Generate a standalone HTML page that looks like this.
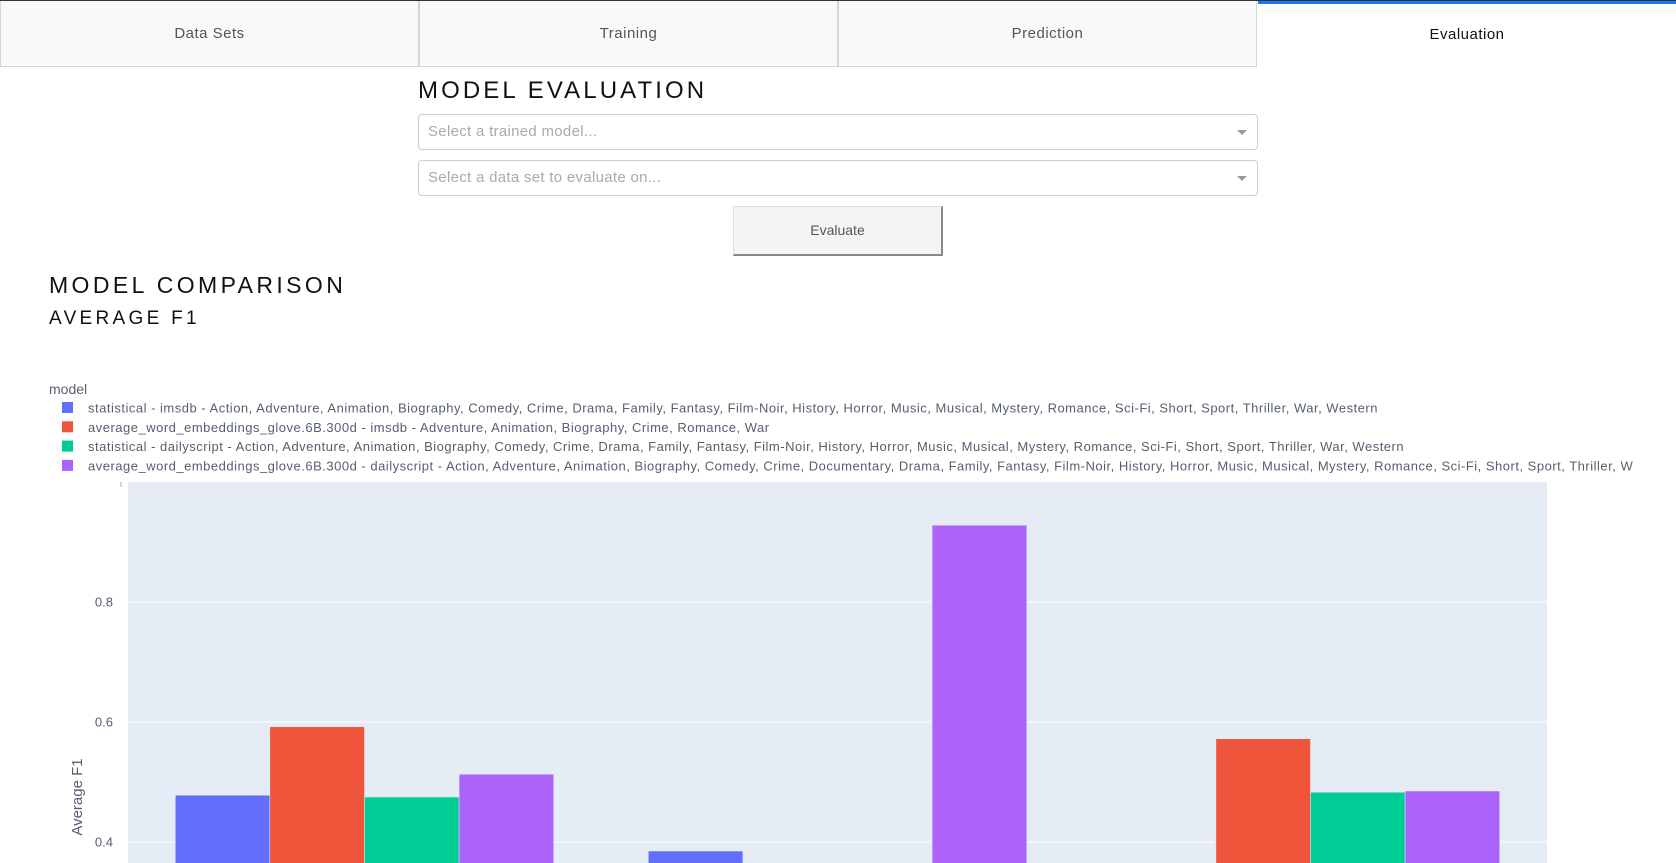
<!DOCTYPE html>
<html><head><meta charset="utf-8"><style>
*{box-sizing:border-box;margin:0;padding:0}
body{width:1676px;height:863px;overflow:hidden;background:#fff;font-family:"Liberation Sans",sans-serif;position:relative}
.tabs{position:absolute;left:0;top:0;width:1676px;height:67px;border-top:1px solid #333}
.tab{position:absolute;top:0;height:66px;width:419px;background:#f9f9f9;border:1px solid #d6d6d6;border-top:none;color:#555;font-size:15px;letter-spacing:.5px;text-align:center;line-height:66px}
.tab.active{background:#fff;border:none;border-top:3px solid #1975fa;color:#111;line-height:62px}
h1{position:absolute;left:418px;top:77px;font-size:24px;font-weight:normal;letter-spacing:3.1px;color:#111}
.dd{position:absolute;left:418px;width:840px;height:36px;border:1px solid #ccc;border-radius:4px;color:#aaa;font-size:15px;padding-left:9px;line-height:34px;letter-spacing:.3px}
.dd:after{content:"";position:absolute;right:10px;top:15px;border:5px solid transparent;border-top:5px solid #999}
.btn{position:absolute;left:733px;top:206px;width:210px;height:50px;background:#f4f4f6;border:1px solid #ddd;border-right:2px solid #888;border-bottom:2px solid #888;color:#555;font-size:14px;text-align:center;line-height:47px}
h2{position:absolute;left:49px;top:272px;font-size:23px;font-weight:normal;letter-spacing:3.4px;color:#111}
h3{position:absolute;left:49px;top:308px;font-size:19px;font-weight:normal;letter-spacing:3.3px;color:#111}
svg{position:absolute;left:0;top:370px}
</style></head><body>
<div class="tabs">
<div class="tab" style="left:0">Data Sets</div>
<div class="tab" style="left:419px">Training</div>
<div class="tab" style="left:838px">Prediction</div>
<div class="tab active" style="left:1258px;width:418px">Evaluation</div>
</div>
<h1>MODEL EVALUATION</h1>
<div class="dd" style="top:114px">Select a trained model...</div>
<div class="dd" style="top:160px">Select a data set to evaluate on...</div>
<div class="btn">Evaluate</div>
<h2>MODEL COMPARISON</h2>
<h3>AVERAGE F1</h3>
<svg id="chart" width="1676" height="493"></svg>
<script>
const categories=["A","B","C"];
const seriesNames=["statistical - imsdb - Action, Adventure, Animation, Biography, Comedy, Crime, Drama, Family, Fantasy, Film-Noir, History, Horror, Music, Musical, Mystery, Romance, Sci-Fi, Short, Sport, Thriller, War, Western",
"average_word_embeddings_glove.6B.300d - imsdb - Adventure, Animation, Biography, Crime, Romance, War",
"statistical - dailyscript - Action, Adventure, Animation, Biography, Comedy, Crime, Drama, Family, Fantasy, Film-Noir, History, Horror, Music, Musical, Mystery, Romance, Sci-Fi, Short, Sport, Thriller, War, Western",
"average_word_embeddings_glove.6B.300d - dailyscript - Action, Adventure, Animation, Biography, Comedy, Crime, Documentary, Drama, Family, Fantasy, Film-Noir, History, Horror, Music, Musical, Mystery, Romance, Sci-Fi, Short, Sport, Thriller, W"];
const s1=[0.478,0.385,null];
const s2=[0.592,null,0.572];
const s3=[0.475,null,0.483];
const s4=[0.513,0.928,0.485];
const yTicks=[0.4,0.6,0.8];
const colors=["#636efa","#ef553b","#00cc96","#ab63fa"];
const series=[s1,s2,s3,s4];
const NS="http://www.w3.org/2000/svg";
const svg=document.getElementById('chart');
const OY=370;
const L=128,R=1547,T=482-OY,B=900-OY;
const y=v=>T+(1-v)*600;
const bw=(R-L)/categories.length;
const x=i=>L+bw*i;
function mk(t,a,p){const e=document.createElementNS(NS,t);for(const k in a)e.setAttribute(k,a[k]);(p||svg).appendChild(e);return e;}
const lt=mk('text',{x:49,y:24,'font-size':14,fill:'#555f70'});lt.textContent='model';


seriesNames.forEach((n,i)=>{
 const g=mk('g',{});
 
 
 const yy=38+i*19.3;
 mk('rect',{x:62,y:yy-6,width:11,height:11,fill:colors[i]},g);
 const t=mk('text',{x:88,y:yy+4.5,'font-size':13,fill:'#555f70','letter-spacing':'0.5'},g);t.textContent=n;
});
const bg=mk('rect',{x:L,y:T,width:R-L,height:B-T,fill:'#e5ecf6'});


yTicks.forEach(v=>{
 const gl=mk('line',{x1:L,x2:R,y1:y(v),y2:y(v),stroke:'#fff','stroke-width':1});
 
 
 const t=mk('text',{x:L-15,y:y(v)+4.5,'font-size':13,fill:'#555f70','text-anchor':'end'});t.textContent=v.toFixed(1);
 
 
});
mk('line',{x1:L-7,x2:L-7,y1:T,y2:T+5,stroke:'#aaa'});
const inner=bw*0.8, barW=inner/4;
series.forEach((s,si)=>s.forEach((v,ci)=>{
 if(v==null)return;
 const bx=x(ci)+bw*0.1+si*barW;
 const r=mk('rect',{x:bx,y:y(v),width:barW,height:B-y(v),fill:colors[si],stroke:'#e5ecf6','stroke-width':0.5});
 
 
}));
const yt=mk('text',{transform:`translate(82,${797-OY}) rotate(-90)`,'font-size':15,fill:'#555f70','text-anchor':'middle'});yt.textContent='Average F1';


</script>
</body></html>
